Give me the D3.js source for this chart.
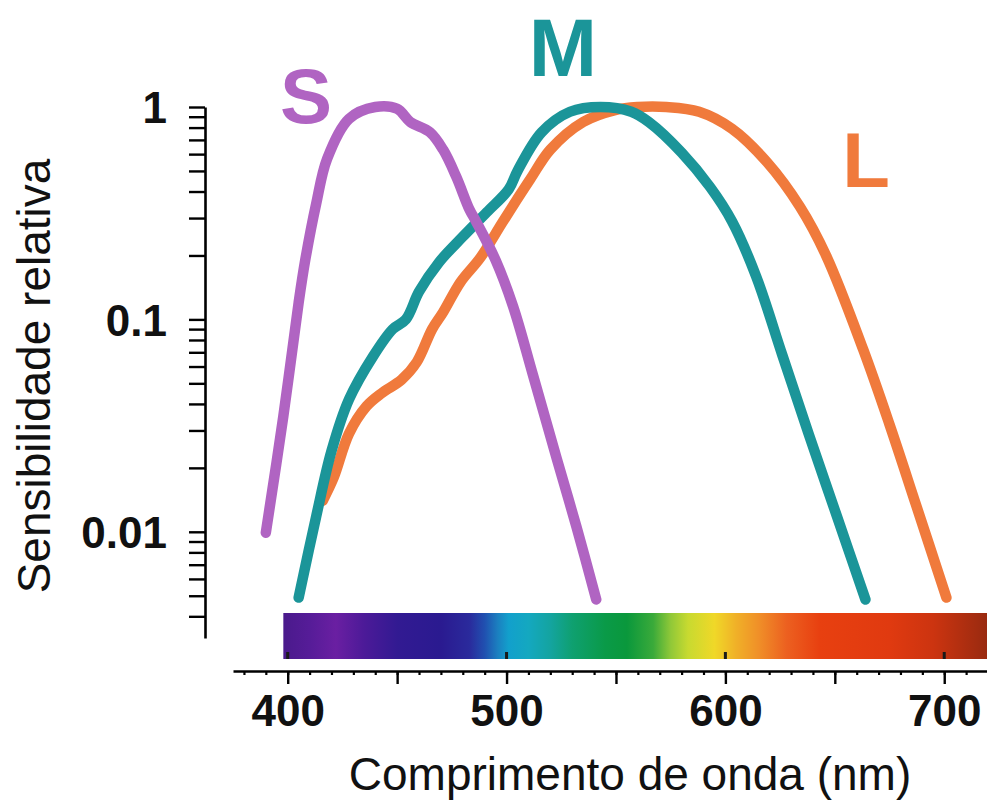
<!DOCTYPE html>
<html>
<head>
<meta charset="utf-8">
<script src="https://cdn.jsdelivr.net/npm/d3@7"></script>
<style>
  html, body { margin: 0; padding: 0; background: #ffffff; }
  svg { display: block; }
</style>
</head>
<body>
<svg id="chart" width="987" height="800"></svg>
<script>
// ---------------- DATA ----------------
// Wavelengths (nm) and relative sensitivities
const sWave = [390, 398, 405, 408, 413, 418, 428, 440, 450, 456, 465, 471, 477, 483, 486, 495, 503, 512, 523, 532, 541];
const sVal  = [0.0099, 0.035, 0.12, 0.19, 0.35, 0.57, 0.88, 1.0, 0.98, 0.85, 0.76, 0.63, 0.47, 0.33, 0.29, 0.19, 0.115, 0.055, 0.022, 0.0105, 0.0048];

const mWave = [405, 413, 420, 428, 439, 448, 454, 460, 469, 480, 491, 501, 505, 516, 529, 543, 557, 565, 580, 593, 603, 614, 626, 638, 651, 664];
const mVal  = [0.0049, 0.0118, 0.024, 0.042, 0.067, 0.09, 0.10, 0.135, 0.185, 0.245, 0.32, 0.41, 0.50, 0.76, 0.95, 1.0, 0.95, 0.85, 0.61, 0.42, 0.29, 0.16, 0.068, 0.029, 0.0118, 0.0048];

const lWave = [416, 421, 428, 436, 443, 452, 459, 466, 471, 479, 488, 498, 505, 511, 520, 535, 550, 560, 573, 588, 603, 619, 634, 646, 663, 675, 687, 701];
const lVal  = [0.014, 0.018, 0.029, 0.039, 0.045, 0.052, 0.063, 0.09, 0.108, 0.15, 0.195, 0.285, 0.37, 0.46, 0.63, 0.85, 0.97, 1.0, 1.0, 0.95, 0.79, 0.55, 0.34, 0.2, 0.072, 0.032, 0.0135, 0.0049];

const seriesNames  = ["L", "M", "S"];
const seriesColors = ["#f07a3c", "#1b9599", "#b064c2"];

// Spectrum colour stops
const spectrumNm     = [398, 410, 422, 435, 450, 470, 483, 490, 496, 501, 510, 520, 530, 545, 555, 567, 575, 583, 595, 605, 615, 628, 643, 675, 695, 720];
const spectrumColors = ["#4a1a8c", "#561c98", "#6a1fa2", "#4c1a98", "#321a92", "#2a1a90", "#2a2a9c", "#2050b0", "#1b80c0", "#12a0cc", "#14a8c0", "#14a4a0", "#0fa070", "#0a9a48", "#0a983c", "#3aaa3a", "#90c838", "#c8da30", "#f0d828", "#f0b028", "#f09028", "#ec6020", "#e84010", "#e03a10", "#cc3410", "#982a10"];

// Axis ticks / labels
const xLabelTicks = [400, 500, 600, 700];
const yLabelTicks = [1, 0.1, 0.01];
const yLabelText  = ["1", "0.1", "0.01"];
const xTitle = "Comprimento de onda (nm)";
const yTitle = "Sensibilidade relativa";

// ---------------- CHART ----------------
const svg = d3.select("#chart");
const FONT = "'Liberation Sans', Arial, Helvetica, sans-serif";

const x = d3.scaleLinear().domain([375, 720]).range([233, 988]);
const y = d3.scaleLog().domain([Math.pow(10, -2.5), 1]).range([638, 107]);

// Spectrum bar
const defs = svg.append("defs");
const grad = defs.append("linearGradient")
  .attr("id", "spectrum")
  .attr("gradientUnits", "userSpaceOnUse")
  .attr("x1", x(spectrumNm[0])).attr("x2", x(spectrumNm[spectrumNm.length - 1]))
  .attr("y1", 0).attr("y2", 0);
grad.selectAll("stop")
  .data(spectrumNm)
  .join("stop")
  .attr("offset", (d) => (x(d) - x(spectrumNm[0])) / (x(spectrumNm[spectrumNm.length - 1]) - x(spectrumNm[0])))
  .attr("stop-color", (d, i) => spectrumColors[i]);

const barTop = 613, barBottom = 659;
svg.append("rect")
  .attr("x", x(spectrumNm[0]))
  .attr("y", barTop)
  .attr("width", x(spectrumNm[spectrumNm.length - 1]) - x(spectrumNm[0]))
  .attr("height", barBottom - barTop)
  .attr("fill", "url(#spectrum)");

// small marks at bottom of the bar
svg.append("g").selectAll("rect")
  .data(xLabelTicks)
  .join("rect")
  .attr("x", (d) => x(d) - 1.5)
  .attr("y", barBottom - 7)
  .attr("width", 3)
  .attr("height", 7)
  .attr("fill", "#1a1a1a");

// X axis
const xAxisY = 671;
const minorTicks = d3.range(380, 721, 10);
const majorTicks = d3.range(400, 721, 50);
svg.append("g")
  .attr("transform", `translate(0,${xAxisY})`)
  .call(d3.axisBottom(x).tickValues(minorTicks).tickSize(4).tickSizeOuter(0).tickFormat(""))
  .call((g) => g.select(".domain").attr("stroke", "#000").attr("stroke-width", 2.6))
  .call((g) => g.selectAll(".tick line").attr("stroke", "#000").attr("stroke-width", 2.2));

const xMajor = svg.append("g")
  .attr("transform", `translate(0,${xAxisY})`)
  .call(d3.axisBottom(x).tickValues(majorTicks).tickSize(13).tickSizeOuter(0)
    .tickFormat((d) => (xLabelTicks.includes(d) ? String(d) : "")));
xMajor.select(".domain").remove();
xMajor.selectAll(".tick line").attr("stroke", "#000").attr("stroke-width", 2.4);
xMajor.selectAll(".tick text")
  .attr("y", 55)
  .attr("dy", null)
  .attr("fill", "#111")
  .style("font-family", FONT)
  .style("font-size", "44px")
  .style("font-weight", "bold");

// Y axis
const yAxisX = 205;
const yAx = svg.append("g")
  .attr("transform", `translate(${yAxisX},0)`)
  .call(d3.axisLeft(y).tickValues(y.ticks()).tickSize(16).tickSizeOuter(0)
    .tickFormat((d) => {
      const i = yLabelTicks.findIndex((v) => Math.abs(v - d) / v < 1e-6);
      return i >= 0 ? yLabelText[i] : "";
    }));
yAx.select(".domain").attr("stroke", "#000").attr("stroke-width", 2.6);
yAx.selectAll(".tick line").attr("stroke", "#000").attr("stroke-width", 2.4);
yAx.selectAll(".tick text")
  .attr("x", -38)
  .attr("dy", "0.36em")
  .attr("fill", "#111")
  .style("font-family", FONT)
  .style("font-size", "44px")
  .style("font-weight", "bold");

// Axis titles
svg.append("text")
  .attr("x", 630)
  .attr("y", 790)
  .attr("text-anchor", "middle")
  .attr("fill", "#111")
  .style("font-family", FONT)
  .style("font-size", "46px")
  .text(xTitle);

svg.append("text")
  .attr("transform", "translate(50,376) rotate(-90)")
  .attr("text-anchor", "middle")
  .attr("fill", "#111")
  .style("font-family", FONT)
  .style("font-size", "46px")
  .text(yTitle);

// Curves
const series = [
  { name: "L", wave: lWave, val: lVal },
  { name: "M", wave: mWave, val: mVal },
  { name: "S", wave: sWave, val: sVal }
];
const line = d3.line()
  .x((d) => x(d[0]))
  .y((d) => y(d[1]))
  .curve(d3.curveCatmullRom.alpha(0.5));

svg.append("g").selectAll("path")
  .data(series)
  .join("path")
  .attr("d", (s) => line(s.wave.map((w, i) => [w, s.val[i]])))
  .attr("fill", "none")
  .attr("stroke", (s) => seriesColors[seriesNames.indexOf(s.name)])
  .attr("stroke-width", 10.5)
  .attr("stroke-linecap", "round")
  .attr("stroke-linejoin", "round");

// Series labels
const labelPos = { S: [306, 123], M: [563, 76], L: [866, 187] };
svg.append("g").selectAll("text")
  .data(seriesNames)
  .join("text")
  .attr("x", (d) => labelPos[d][0])
  .attr("y", (d) => labelPos[d][1])
  .attr("text-anchor", "middle")
  .attr("fill", (d, i) => seriesColors[i])
  .style("font-family", FONT)
  .style("font-size", (d) => (d === "M" ? "82px" : "78px"))
  .style("font-weight", "bold")
  .text((d) => d);
</script>
</body>
</html>
